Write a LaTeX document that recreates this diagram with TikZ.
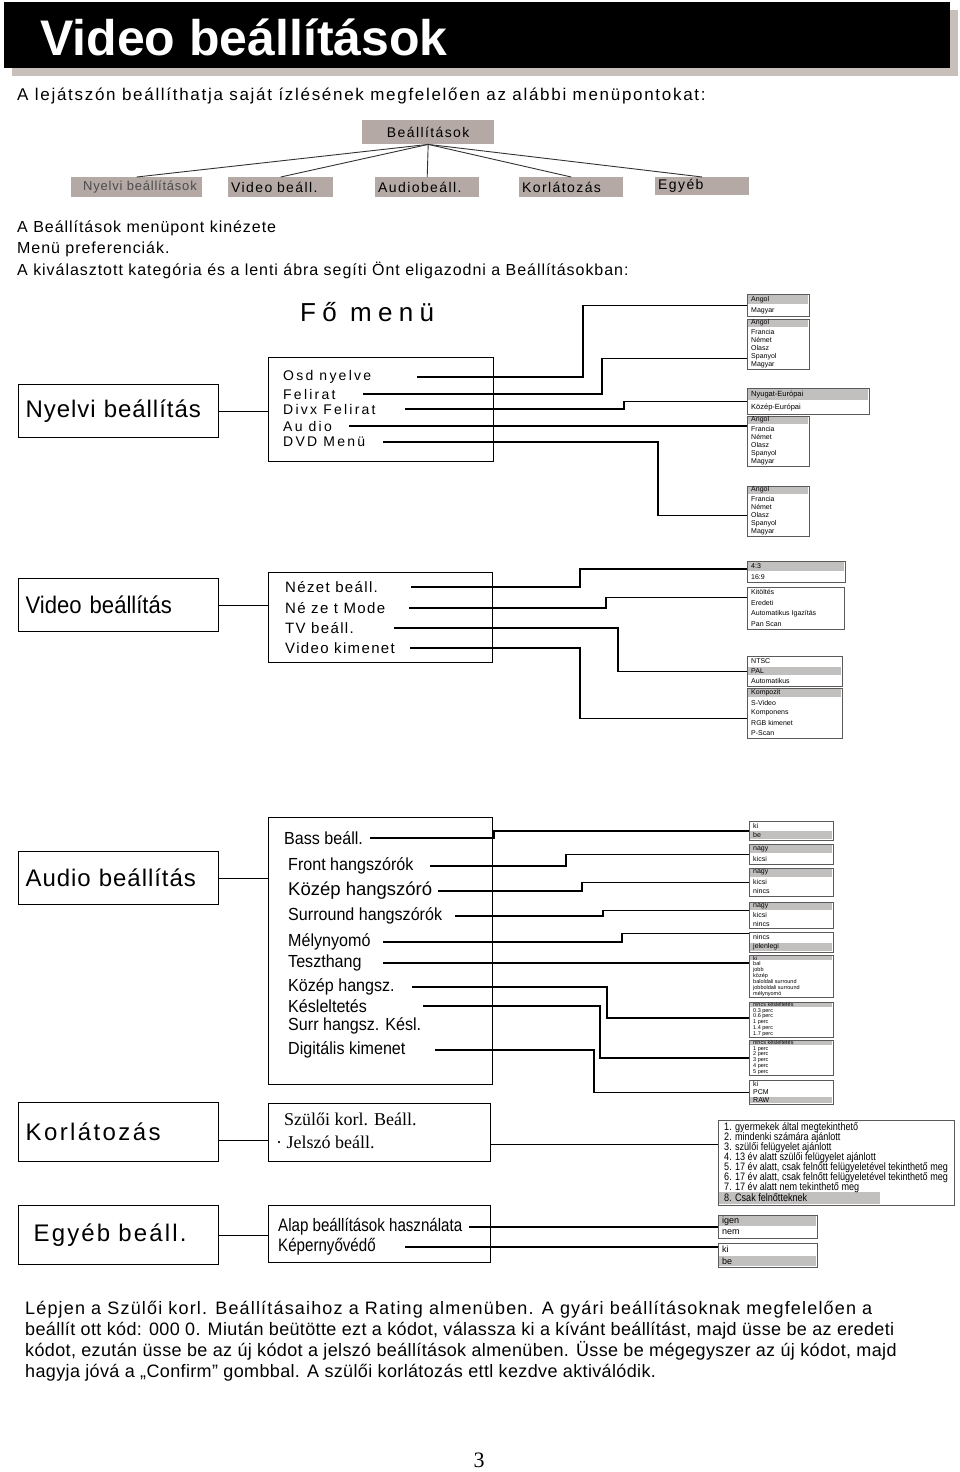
\documentclass[tikz,border=0pt]{standalone}
\usepackage{fontspec}
\setmainfont{Liberation Sans}
\newfontfamily\serffont{Liberation Serif}
\newfontfamily\condfont{Liberation Sans}[FakeStretch=0.92]
\newfontfamily\narrowfont{Liberation Sans}[FakeStretch=0.84]
\usetikzlibrary{positioning}
\definecolor{shadow}{HTML}{C8BFBA}
\definecolor{tabgrey}{HTML}{B4A9A4}
\definecolor{optgrey}{HTML}{C2BFBF}
\definecolor{framegrey}{HTML}{5A5A5A}
\newcommand\fsz[1]{\fontsize{#1}{#1}\selectfont}
% option list: name, x, y, width, height, rows, grey row, font size, texts
\newcommand\optbox[9]{%
  \node[optframe,minimum width=#4pt,minimum height=#5pt] (#1) at (#2,#3) {};
  \foreach \txt [count=\rowno] in {#9}{
    \ifnum\rowno=#7 \fill[optgrey] (#2+1,{#3+(\rowno-1)*#5/#6+0.6}) rectangle ++(#4-2,{#5/#6-1.2});\fi
    \node[optrow,font=\fsz{#8}] (#1-\rowno) at (#2+4,{#3+(\rowno-0.5)*#5/#6}) {\txt};
  }%
}
\begin{document}
\begin{tikzpicture}[x=1pt,y=-1pt,
  cat/.style={draw,line width=1.3pt,anchor=north west,text width=186pt,inner xsep=7pt,inner ysep=0pt,align=left},
  menu/.style={draw,line width=1.3pt,anchor=north west,inner sep=0pt},
  tabbox/.style={fill=tabgrey,anchor=north west,inner xsep=3pt,inner ysep=0pt,minimum height=20pt,align=left,font=\fsz{14}\addfontfeatures{LetterSpace=10}},
  item/.style={anchor=west,inner sep=0pt},
  intro/.style={item,font=\fsz{16}\addfontfeatures{LetterSpace=6}},
  nitem/.style={item,font=\fsz{14}\addfontfeatures{LetterSpace=16}},
  vitem/.style={item,font=\fsz{15}\addfontfeatures{LetterSpace=9}},
  aitem/.style={item,font=\condfont\fsz{17.5}},
  link/.style={line width=1.2pt},
  optframe/.style={draw=framegrey,line width=0.8pt,anchor=north west,inner sep=0pt},
  optrow/.style={anchor=west,inner sep=0pt}]
\useasboundingbox (0,0) rectangle (960,1472);
\fill[white] (0,0) rectangle (960,1472);
% header
\fill[shadow] (12,10) rectangle (958,76);
\fill[black] (4,2) rectangle (950,68);
\node[item,text=white,font=\fsz{50}\bfseries] (title) at (40,37) {Video beállítások};
\node[item,font=\fsz{17}\addfontfeatures{LetterSpace=10}] (lead) at (17,96) {A lejátszón beállíthatja saját ízlésének megfelelően az alábbi menüpontokat:};
% settings tree
\node[tabbox,text width=126pt,align=center,minimum height=24pt] (root) at (362,120) {Beállítások};
\node[tabbox,text width=125pt,text=black!70,font=\fsz{13}\addfontfeatures{LetterSpace=6}] (t1) at (71,177) {\hspace*{9pt}Nyelvi beállítások};
\node[tabbox,text width=99pt] (t2) at (228,177) {Video beáll.};
\node[tabbox,text width=98pt] (t3) at (375,177) {Audiobeáll.};
\node[tabbox,text width=98pt] (t4) at (519,177) {Korlátozás};
\node[tabbox,text width=88pt,minimum height=18pt] (t5) at (655,177) {Egyéb};
\foreach \c in {t1,t2,t3,t4,t5}
  \draw[black!80,line width=0.9pt] (root.south) -- (\c.north);
\node[intro] (l1) at (17,228) {A Beállítások menüpont kinézete};
\node[intro] (l2) at (17,249) {Menü preferenciák.};
\node[intro] (l3) at (17,270) {A kiválasztott kategória és a lenti ábra segíti Önt eligazodni a Beállításokban:};
\node[item,font=\fsz{26}\addfontfeatures{LetterSpace=24}] (fomenu) at (300,312) {Fő menü};

% Nyelvi
\node[cat,minimum height=53pt,font=\fsz{24}\addfontfeatures{LetterSpace=4}] (ncat) at (18,384) {Nyelvi beállítás};
\node[menu,minimum width=225pt,minimum height=104pt] (nmenu) at (268,357) {};
\node[nitem] (osd) at (283,377) {Osd nyelve};
\node[nitem] (fel) at (283,394) {Felirat};
\node[nitem] (divx) at (283,409) {Divx Felirat};
\node[nitem] (aud) at (283,426) {Au dio};
\node[nitem] (dvd) at (283,442) {DVD Menü};
\optbox{oA}{747}{294}{62}{22}{2}{1}{7}{Angol,Magyar}
\optbox{oB}{747}{319}{62}{50}{6}{1}{7}{Angol,Francia,Német,Olasz,Spanyol,Magyar}
\optbox{oC}{747}{388}{122}{26}{2}{1}{7.5}{Nyugat-Európai,Közép-Európai}
\optbox{oD}{747}{416}{62}{50}{6}{1}{7}{Angol,Francia,Német,Olasz,Spanyol,Magyar}
\optbox{oE}{747}{486}{62}{50}{6}{1}{7}{Angol,Francia,Német,Olasz,Spanyol,Magyar}
\draw[link] (ncat.east) -- (ncat.east -| nmenu.west);
\draw[link] (osd.east -| 417,0) -- (osd.east -| 583,0) |- (oA.west);
\draw[link] (fel.east -| 363,0) -- (fel.east -| 602,0) |- ([yshift=-14pt]oB.west);
\draw[link] (divx.east -| 405,0) -- (divx.east -| 624,0) |- (oC.west);
\draw[link] (aud.east -| 349,0) -- (aud.east -| oD.west);
\draw[link] (dvd.east -| 383,0) -- (dvd.east -| 658,0) |- ([yshift=-4pt]oE.west);

% Video
\node[cat,minimum height=53pt,font=\condfont\fsz{24}] (vcat) at (18,578) {Video beállítás};
\node[menu,minimum width=224pt,minimum height=90pt] (vmenu) at (268,572) {};
\node[vitem] (nez) at (285,587) {Nézet beáll.};
\node[vitem] (mode) at (285,608) {Né ze t Mode};
\node[vitem] (tv) at (285,628) {TV beáll.};
\node[vitem] (vki) at (285,648) {Video kimenet};
\optbox{vA}{747}{561}{98}{21}{2}{1}{7}{4:3,16:9}
\optbox{vB}{747}{587}{97}{42}{4}{0}{7}{Kitöltés,Eredeti,Automatikus Igazítás,Pan Scan}
\optbox{vC}{747}{656}{95}{30}{3}{2}{7}{NTSC,PAL,Automatikus}
\optbox{vD}{747}{688}{95}{50}{5}{1}{7}{Kompozit,S-Video,Komponens,RGB kimenet,P-Scan}
\draw[link] (vcat.east) -- (vcat.east -| vmenu.west);
\draw[link] (nez.east -| 411,0) -- (nez.east -| 580,0) |- ([yshift=3pt]vA.west);
\draw[link] (mode.east -| 409,0) -- (mode.east -| 606,0) |- ([yshift=11pt]vB.west);
\draw[link] (tv.east -| 394,0) -- (tv.east -| 618,0) |- (vC.west);
\draw[link] (vki.east -| 410,0) -- (vki.east -| 580,0) |- ([yshift=-5pt]vD.west);

% Audio
\node[cat,minimum height=53pt,font=\fsz{24}\addfontfeatures{LetterSpace=4}] (acat) at (18,851) {Audio beállítás};
\node[menu,minimum width=224pt,minimum height=267pt] (amenu) at (268,817) {};
\node[aitem] (bass) at (284,838) {Bass beáll.};
\node[aitem] (front) at (288,866) {Front hangszórók};
\node[item,font=\fsz{18.5}] (kozep) at (288,891) {Közép hangszóró};
\node[aitem] (surr) at (288,916) {Surround hangszórók};
\node[aitem] (mely) at (288,942) {Mélynyomó};
\node[aitem] (teszt) at (288,963) {Teszthang};
\node[aitem] (khang) at (288,987) {Közép hangsz.};
\node[aitem] (kesl) at (288,1006) {Késleltetés};
\node[aitem] (surrk) at (288,1026) {Surr hangsz. Késl.};
\node[aitem] (digi) at (288,1050) {Digitális kimenet};
\optbox{aA}{749}{821}{84}{19}{2}{2}{7}{ki,be}
\optbox{aB}{749}{844}{84}{20}{2}{1}{7}{nagy,kicsi}
\optbox{aC}{749}{868}{84}{28}{3}{1}{7}{nagy,kicsi,nincs}
\optbox{aD}{749}{902}{84}{26}{3}{1}{7}{nagy,kicsi,nincs}
\optbox{aE}{749}{932}{84}{20}{2}{2}{7}{nincs,jelenlegi}
\optbox{aF}{749}{955}{84}{42}{7}{1}{5.5}{ki,bal,jobb,közép,baloldali surround,jobboldali surround,mélynyomó}
\optbox{aG}{749}{1002}{84}{35}{6}{1}{5.5}{nincs késleltetés,0.3 perc,0.6 perc,1 perc,1.4 perc,1.7 perc}
\optbox{aH}{749}{1040}{84}{35}{6}{1}{5.5}{nincs késleltetés,1 perc,2 perc,3 perc,4 perc,5 perc}
\optbox{aI}{749}{1080}{84}{24}{3}{3}{7}{ki,PCM,RAW}
\draw[link] (acat.east) -- (acat.east -| amenu.west);
\draw[link] (bass.east -| 370,0) -- (bass.east -| 494,0) |- (aA.west);
\draw[link] (front.east -| 430,0) -- (front.east -| 566,0) |- (aB.west);
\draw[link] (kozep.east -| 438,0) -- (kozep.east -| 582,0) |- (aC.west);
\draw[link] (surr.east -| 455,0) -- (surr.east -| 603,0) |- ([yshift=5pt]aD.west);
\draw[link] (mely.east -| 383,0) -- (mely.east -| 622,0) |- ([yshift=9pt]aE.west);
\draw[link] (teszt.east -| 383,0) -- (teszt.east -| aF.west);
\draw[link] (khang.east -| 412,0) -- (khang.east -| 607,0) |- ([yshift=2pt]aG.west);
\draw[link] (kesl.east -| 423,0) -- (kesl.east -| 600,0) |- (aH.west);
\draw[link] (digi.east -| 435,0) -- (digi.east -| 594,0) |- (aI.west);

% Korlatozas
\node[cat,minimum height=59pt,font=\fsz{24}\addfontfeatures{LetterSpace=10}] (kcat) at (18,1102) {Korlátozás};
\node[menu,minimum width=222pt,minimum height=58pt] (kmenu) at (268,1103) {};
\node[item,font=\serffont\fsz{18}] (szul) at (284,1119) {Szülői korl. Beáll.};
\node[item,font=\serffont\fsz{18}] (jel) at (276,1142) {· Jelszó beáll.};
\node[optframe,minimum width=236pt,minimum height=85pt] (kopt) at (718,1120) {};
\fill[optgrey] (719,1192) rectangle (880,1204);
\foreach \txt [count=\rowno] in {1. gyermekek által megtekinthető,2. mindenki számára ajánlott,3. szülői felügyelet ajánlott,4. 13 év alatt szülői felügyelet ajánlott,{5. 17 év alatt, csak felnőtt felügyeletével tekinthető meg},{6. 17 év alatt, csak felnőtt felügyeletével tekinthető meg},7. 17 év alatt nem tekinthető meg,8. Csak felnőtteknek}
  \node[optrow,font=\narrowfont\fsz{10.8}] (kopt-\rowno) at (724,{1118+\rowno*10}) {\txt};
\coordinate (kcatout) at ([yshift=-8pt]kcat.east);
\coordinate (kmenuout) at ([yshift=-12pt]kmenu.east);
\draw[link] (kcatout) -- (kcatout -| kmenu.west);
\draw[link] (kmenuout) -- (kmenuout -| kopt.west);

% Egyeb
\node[cat,minimum height=59pt,font=\fsz{24}\addfontfeatures{LetterSpace=9}] (ecat) at (18,1205) {\hspace*{8pt}Egyéb beáll.};
\node[menu,minimum width=222pt,minimum height=57pt] (emenu) at (268,1205) {};
\node[item,font=\narrowfont\fsz{18}] (alap) at (278,1227) {Alap beállítások használata};
\node[item,font=\narrowfont\fsz{18}] (kep) at (278,1247) {Képernyővédő};
\optbox{eA}{718}{1215}{99}{23}{2}{1}{9}{igen,nem}
\optbox{eB}{718}{1243}{99}{24}{2}{2}{9}{ki,be}
\draw[link] (ecat.east) -- (ecat.east -| emenu.west);
\draw[link] (alap.east -| 469,0) -- (alap.east -| eA.west);
\draw[link] (kep.east -| 405,0) -- (kep.east -| eB.west);

% note
\node[anchor=north west,inner sep=0pt,align=left,font=\fontsize{18}{21}\selectfont\addfontfeatures{LetterSpace=2}] (note) at (25,1301) {{\addfontfeatures{LetterSpace=6.5}Lépjen a Szülői korl. Beállításaihoz a Rating almenüben. A gyári beállításoknak megfelelően a}\\beállít ott kód: 000 0. Miután beütötte ezt a kódot, válassza ki a kívánt beállítást, majd üsse be az eredeti\\kódot, ezután üsse be az új kódot a jelszó beállítások almenüben. Üsse be mégegyszer az új kódot, majd\\hagyja jóvá a „Confirm” gombbal. A szülői korlátozás ettl kezdve aktiválódik.};
\node[font=\serffont\fsz{22}] (page) at (479,1460) {3};
\end{tikzpicture}
\end{document}
